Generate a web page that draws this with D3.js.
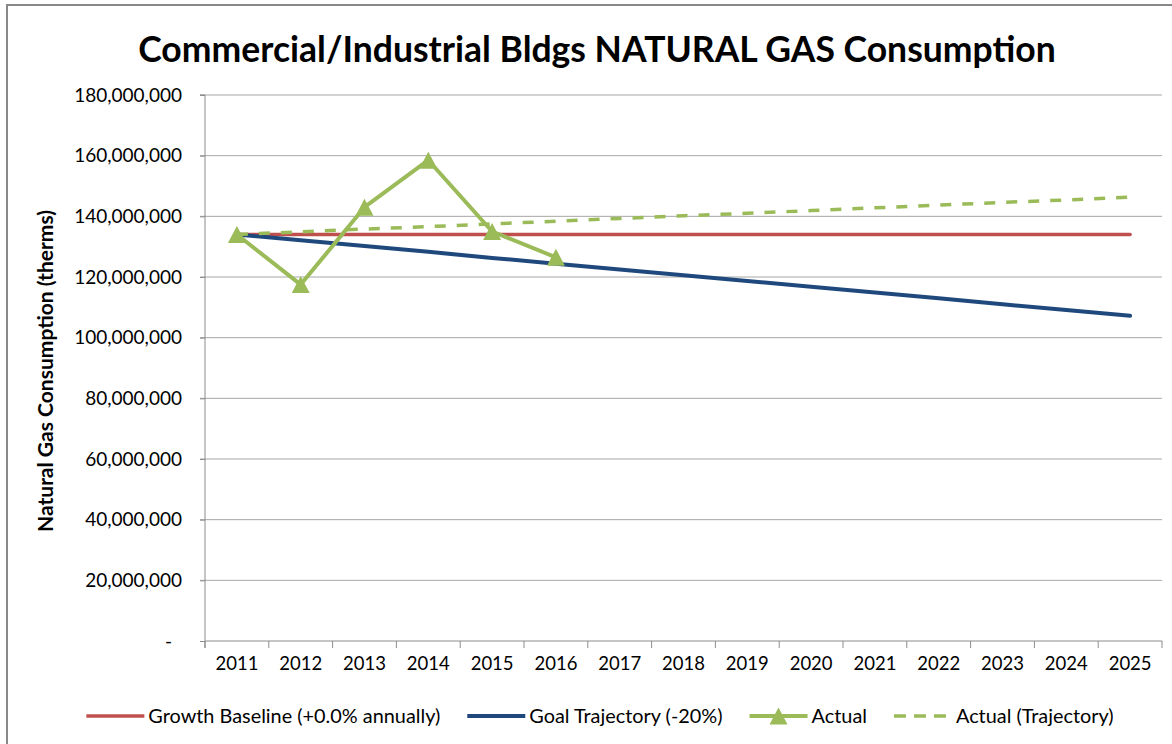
<!DOCTYPE html>
<html>
<head>
<meta charset="utf-8">
<script src="https://cdn.jsdelivr.net/npm/d3@7"></script>
<style>
  body { margin: 0; background: #fff; }
  text { font-family: Lato, "Open Sans", sans-serif; fill: #000; }
</style>
</head>
<body>
<div id="chart"></div>
<script>
// Daten
const years = ["2011", "2012", "2013", "2014", "2015", "2016", "2017", "2018",
               "2019", "2020", "2021", "2022", "2023", "2024", "2025"];
const baseline = [134.0e6, 134.0e6, 134.0e6, 134.0e6, 134.0e6, 134.0e6, 134.0e6, 134.0e6,
                  134.0e6, 134.0e6, 134.0e6, 134.0e6, 134.0e6, 134.0e6, 134.0e6];
const goal = [134.0e6, 132.1e6, 130.2e6, 128.3e6, 126.3e6, 124.4e6, 122.5e6, 120.6e6,
              118.7e6, 116.8e6, 114.9e6, 113.0e6, 111.0e6, 109.1e6, 107.2e6];
const actual = [134.0e6, 117.5e6, 143.0e6, 158.5e6, 135.0e6, 126.5e6];
const actualTrend = [134.0e6, 134.9e6, 135.8e6, 136.6e6, 137.5e6, 138.4e6, 139.3e6, 140.2e6,
                     141.0e6, 141.9e6, 142.8e6, 143.7e6, 144.6e6, 145.4e6, 146.3e6];
const yTicks = [0, 20e6, 40e6, 60e6, 80e6, 100e6, 120e6, 140e6, 160e6, 180e6];
const seriesNames = ["Growth Baseline (+0.0% annually)", "Goal Trajectory (-20%)",
                     "Actual", "Actual (Trajectory)"];

// Konfiguration
const W = 1172, H = 744;
const plot = { left: 205, right: 1162, top: 95, bottom: 641 };
const colors = { red: "#c0504d", blue: "#1f497d", green: "#9bbb59", grid: "#a6a6a6", axis: "#8c8c8c" };

// Schriftgröße so anpassen, dass der Text eine Zielbreite hat
function fitText(sel, target) {
    const w = sel.node().getComputedTextLength();
    const fs = parseFloat(sel.style("font-size"));
    sel.style("font-size", (fs * target / w) + "px");
    return fs * target / w;
}

const svg = d3.select("#chart")
    .append("svg")
    .attr("width", W)
    .attr("height", H);

// Rahmen (links/oben sichtbar)
svg.append("path")
    .attr("d", `M7,${H} L7,5 L${W},5`)
    .attr("fill", "none")
    .attr("stroke", "#888")
    .attr("stroke-width", 2);

// Titel
const title = svg.append("text")
    .attr("x", 597)
    .attr("y", 62)
    .attr("text-anchor", "middle")
    .style("font-size", "36px")
    .style("font-weight", "bold")
    .text("Commercial/Industrial Bldgs NATURAL GAS Consumption");
fitText(title, 918);

// Skalen
const x = d3.scaleBand().domain(years).range([plot.left, plot.right]);
const y = d3.scaleLinear().domain([0, 180e6]).range([plot.bottom, plot.top]);
const cx = d => x(d) + x.bandwidth() / 2;

// Gitterlinien
svg.append("g")
    .selectAll("line")
    .data(yTicks.filter(d => d > 0))
    .join("line")
    .attr("x1", plot.left - 5)
    .attr("x2", plot.right)
    .attr("y1", d => y(d))
    .attr("y2", d => y(d))
    .attr("stroke", colors.grid)
    .attr("stroke-width", 1);

// Y-Achse
const yAxis = d3.axisLeft(y)
    .tickValues(yTicks)
    .tickSize(5)
    .tickPadding(18)
    .tickFormat(d => d === 0 ? "-" : d3.format(",")(d));

const gy = svg.append("g")
    .attr("transform", `translate(${plot.left},0)`)
    .call(yAxis);
gy.select(".domain").attr("stroke", colors.axis).attr("d", `M-5,${plot.top}H0V${plot.bottom + 7}`);
gy.selectAll(".tick line").attr("stroke", colors.axis);
gy.selectAll(".tick text")
    .style("font-size", "19px")
    .style("font-family", "Lato, sans-serif")
    .attr("fill", "#000")
    .attr("dx", d => d === 0 ? -10 : 0);

// X-Achse
const xAxis = d3.axisBottom(x).tickSize(0).tickPadding(16);
const gx = svg.append("g")
    .attr("transform", `translate(0,${plot.bottom})`)
    .call(xAxis);
gx.select(".domain").attr("stroke", colors.axis).attr("d", `M${plot.left},0H${plot.right}`);
gx.selectAll(".tick text")
    .style("font-size", "18.5px")
    .style("font-family", "Lato, sans-serif")
    .attr("fill", "#000");
// Teilstriche an den Kategoriegrenzen
gx.selectAll(".bound")
    .data(years.map(d => x(d)).concat([plot.right]))
    .join("line")
    .attr("class", "bound")
    .attr("x1", d => d).attr("x2", d => d)
    .attr("y1", 0).attr("y2", 7)
    .attr("stroke", colors.axis);

// Achsentitel
const yTitle = svg.append("text")
    .attr("transform", `translate(53,${(plot.top + plot.bottom) / 2 + 3}) rotate(-90)`)
    .attr("text-anchor", "middle")
    .style("font-size", "16px")
    .style("font-weight", "bold")
    .text("Natural Gas Consumption (therms)");
fitText(yTitle, 322);

// Linien
const line = d3.line()
    .x((d, i) => cx(years[i]))
    .y(d => y(d));

svg.append("path")
    .datum(baseline)
    .attr("d", line)
    .attr("fill", "none")
    .attr("stroke", colors.red)
    .attr("stroke-width", 3.5)
    .attr("stroke-linecap", "round");

svg.append("path")
    .datum(goal)
    .attr("d", line)
    .attr("fill", "none")
    .attr("stroke", colors.blue)
    .attr("stroke-width", 4)
    .attr("stroke-linecap", "round");

svg.append("path")
    .datum(actual)
    .attr("d", line)
    .attr("fill", "none")
    .attr("stroke", colors.green)
    .attr("stroke-width", 4)
    .attr("stroke-linejoin", "round");

// Dreiecks-Marker
const tri = "M0,-8.5L9,8.5L-9,8.5Z";
svg.append("g")
    .selectAll("path")
    .data(actual)
    .join("path")
    .attr("d", tri)
    .attr("transform", (d, i) => `translate(${cx(years[i])},${y(d)})`)
    .attr("fill", colors.green);

svg.append("path")
    .datum(actualTrend)
    .attr("d", line)
    .attr("fill", "none")
    .attr("stroke", colors.green)
    .attr("stroke-width", 3.5)
    .attr("stroke-dasharray", "11,11");

// Legende
const legendStyles = [
    { color: colors.red, dash: null, marker: false, w: 3.5 },
    { color: colors.blue, dash: null, marker: false, w: 4 },
    { color: colors.green, dash: null, marker: true, w: 4 },
    { color: colors.green, dash: "12,8", marker: false, w: 3.5 }
];
const legend = svg.append("g");
const legendY = 716;
const items = legend.selectAll("g")
    .data(seriesNames)
    .join("g");
items.append("line")
    .attr("x1", 0).attr("x2", 58)
    .attr("y1", 0).attr("y2", 0)
    .attr("stroke", (d, i) => legendStyles[i].color)
    .attr("stroke-width", (d, i) => legendStyles[i].w)
    .attr("stroke-dasharray", (d, i) => legendStyles[i].dash);
items.filter((d, i) => legendStyles[i].marker)
    .append("path")
    .attr("d", tri)
    .attr("transform", "translate(29,0)")
    .attr("fill", colors.green);
const legendTexts = items.append("text")
    .attr("x", 62)
    .attr("y", 0)
    .attr("dy", "0.35em")
    .style("font-size", "19px")
    .text(d => d);
const legendFs = fitText(legendTexts.filter((d, i) => i === 0), 292);
legendTexts.style("font-size", legendFs + "px");

// Positionen nacheinander, zentriert
let offset = 0;
const widths = [];
items.each(function() {
    const w = 62 + d3.select(this).select("text").node().getComputedTextLength();
    widths.push(w);
});
const total = d3.sum(widths) + 27 * (widths.length - 1);
let start = 600 - total / 2;
items.attr("transform", (d, i) => {
    const t = `translate(${start + offset},${legendY})`;
    offset += widths[i] + 27;
    return t;
});
</script>
</body>
</html>
